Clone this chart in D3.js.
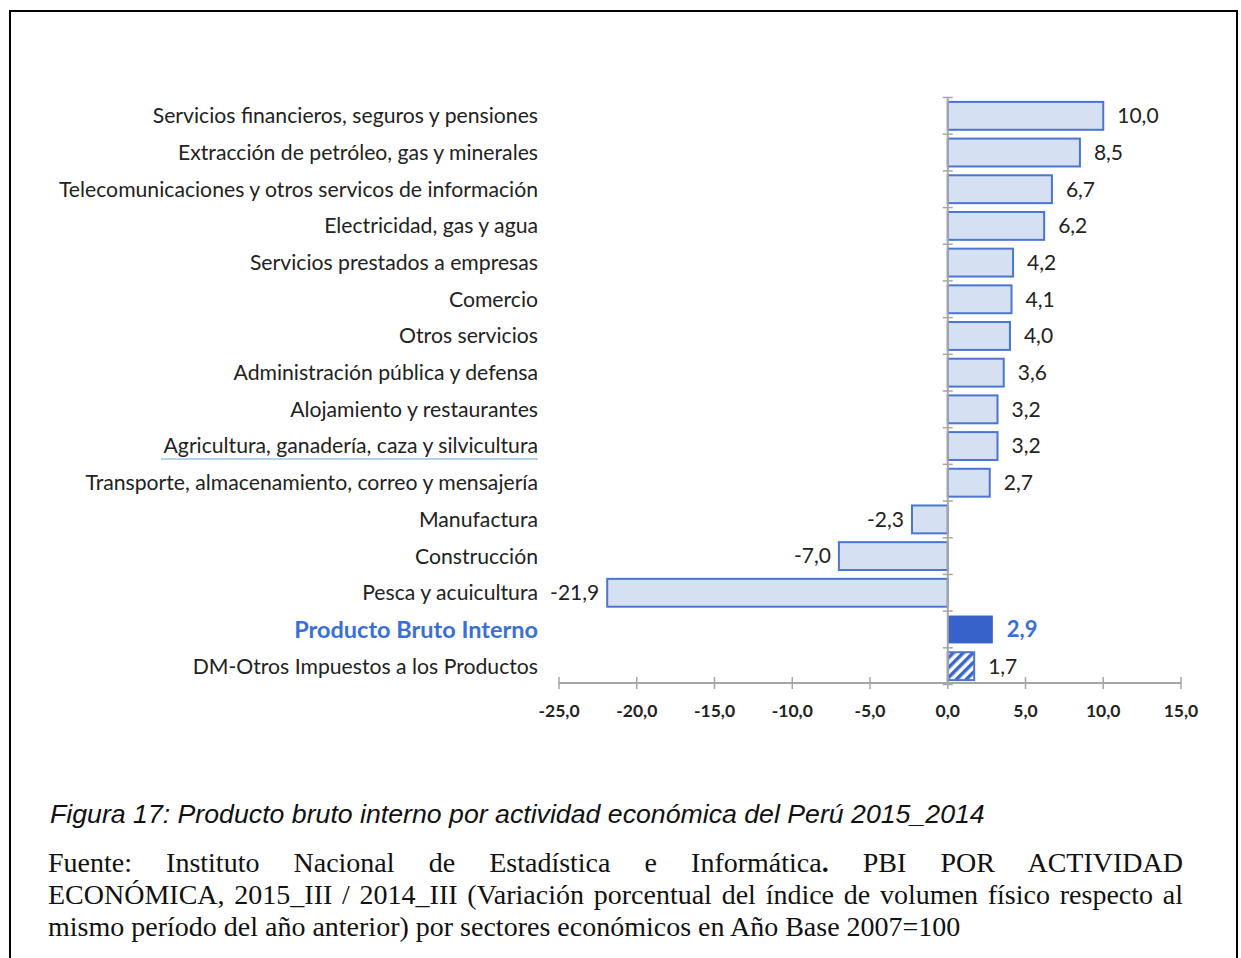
<!DOCTYPE html>
<html>
<head>
<meta charset="utf-8">
<script src="https://cdn.jsdelivr.net/npm/d3@7"></script>
<style>
  body { margin: 0; background: #fff; }
  #frame { position: absolute; left: 9px; top: 10px; width: 1229px; height: 960px;
           border: 2px solid #000; border-bottom: none; box-sizing: border-box; }
  #chart { position: absolute; left: 0; top: 0; }
  .fig { position: absolute; left: 50px; top: 798px; font-family: "Liberation Sans", Arial, sans-serif;
         font-style: italic; font-size: 26.7px; line-height: 32px; color: #111; white-space: nowrap; }
  .src { position: absolute; left: 48px; width: 1135px; font-family: "Liberation Serif", "Times New Roman", serif;
         font-size: 28px; line-height: 32px; color: #111; white-space: nowrap; }
  .just { text-align: justify; text-align-last: justify; white-space: normal; }
</style>
</head>
<body>
<div id="frame"></div>
<svg id="chart" width="1241" height="958"></svg>
<div class="fig">Figura 17: Producto bruto interno por actividad económica del Perú 2015_2014</div>
<div class="src just" style="top:847px">Fuente: Instituto Nacional de Estadística e Informática<b>.</b> PBI POR ACTIVIDAD</div>
<div class="src just" style="top:879px">ECONÓMICA, 2015_III / 2014_III (Variación porcentual del índice de volumen físico respecto al</div>
<div class="src" style="top:911px">mismo período del año anterior) por sectores económicos en Año Base 2007=100</div>
<script>
// sectors, top to bottom
var sectores = [
  "Servicios financieros, seguros y pensiones",
  "Extracción de petróleo, gas y minerales",
  "Telecomunicaciones y otros servicos de información",
  "Electricidad, gas y agua",
  "Servicios prestados a empresas",
  "Comercio",
  "Otros servicios",
  "Administración pública y defensa",
  "Alojamiento y restaurantes",
  "Agricultura, ganadería, caza y silvicultura",
  "Transporte, almacenamiento, correo y mensajería",
  "Manufactura",
  "Construcción",
  "Pesca y acuicultura",
  "Producto Bruto Interno",
  "DM-Otros Impuestos a los Productos"
];
var variacion = [10.0, 8.5, 6.7, 6.2, 4.2, 4.1, 4.0, 3.6, 3.2, 3.2, 2.7, -2.3, -7.0, -21.9, 2.9, 1.7];
var xTicks = [-25, -20, -15, -10, -5, 0, 5, 10, 15];

var svg = d3.select("#chart");

// hatch pattern for the taxes bar
var pat = svg.append("defs").append("pattern")
  .attr("id", "hatch")
  .attr("patternUnits", "userSpaceOnUse")
  .attr("width", 7).attr("height", 7)
  .attr("patternTransform", "rotate(45)");
pat.append("rect").attr("width", 7).attr("height", 7).attr("fill", "#fff");
pat.append("rect").attr("width", 3.5).attr("height", 7).attr("fill", "#3a66cc");

var x = d3.scaleLinear().domain([-25, 15]).range([559, 1181]);
var y = d3.scaleBand().domain(sectores).range([97.5, 684.5])
  .paddingInner(0.24).paddingOuter(0.12);

var fmt = function(v) { return d3.format(".1f")(v).replace(".", ",").replace("−", "-"); };

// x axis
var xAxis = svg.append("g").attr("transform", "translate(0,683)");
xAxis.append("line").attr("x1", x(-25)).attr("x2", x(15))
  .attr("stroke", "#a6a6a6").attr("stroke-width", 2);
xAxis.selectAll(".xt").data(xTicks).enter().append("line")
  .attr("x1", function(d) { return x(d); }).attr("x2", function(d) { return x(d); })
  .attr("y1", -6).attr("y2", 6)
  .attr("stroke", "#a6a6a6").attr("stroke-width", 1.5);
xAxis.selectAll(".xl").data(xTicks).enter().append("text")
  .attr("x", function(d) { return x(d); }).attr("y", 34)
  .attr("text-anchor", "middle")
  .attr("font-family", "Lato, sans-serif").attr("font-size", 17.5).attr("font-weight", "bold")
  .attr("fill", "#222")
  .text(fmt);

// bars
svg.selectAll(".bar").data(variacion).enter().append("rect")
  .attr("x", function(d) { return x(Math.min(0, d)); })
  .attr("y", function(d, i) { return y(sectores[i]); })
  .attr("width", function(d) { return Math.abs(x(d) - x(0)); })
  .attr("height", y.bandwidth())
  .attr("fill", function(d, i) { return i === 14 ? "#3762c9" : (i === 15 ? "url(#hatch)" : "#d6e0f3"); })
  .attr("stroke", function(d, i) { return i === 14 ? "none" : "#4a76d2"; })
  .attr("stroke-width", 2);

// y axis at zero with band ticks
var yAx = svg.append("g");
yAx.append("line").attr("x1", x(0)).attr("x2", x(0))
  .attr("y1", y.range()[0]).attr("y2", y.range()[1])
  .attr("stroke", "#a6a6a6").attr("stroke-width", 2);
yAx.selectAll(".yt").data(d3.range(sectores.length + 1)).enter().append("line")
  .attr("x1", x(0) - 5).attr("x2", x(0) + 5)
  .attr("y1", function(k) { return y.range()[0] + k * y.step(); })
  .attr("y2", function(k) { return y.range()[0] + k * y.step(); })
  .attr("stroke", "#a6a6a6").attr("stroke-width", 1.5);

// category labels
svg.selectAll(".cat").data(sectores).enter().append("text")
  .attr("x", 538)
  .attr("y", function(d) { return y(d) + y.bandwidth() / 2; })
  .attr("dy", "0.35em")
  .attr("text-anchor", "end")
  .attr("font-family", "Lato, sans-serif")
  .attr("font-size", function(d, i) { return i === 14 ? 23.5 : 21.2; })
  .attr("font-weight", function(d, i) { return i === 14 ? "bold" : "normal"; })
  .attr("fill", function(d, i) { return i === 14 ? "#3a6fd8" : "#222"; })
  .text(function(d) { return d; });

// underline under Agricultura label
var agr = sectores[9];
svg.append("line")
  .attr("x1", 161).attr("x2", 538)
  .attr("y1", y(agr) + y.bandwidth() / 2 + 13).attr("y2", y(agr) + y.bandwidth() / 2 + 13)
  .attr("stroke", "#9dc3e6").attr("stroke-width", 1.5);

// value labels
svg.selectAll(".val").data(variacion).enter().append("text")
  .attr("x", function(d) { return d >= 0 ? x(d) + 14 : x(d) - 8; })
  .attr("y", function(d, i) { return y(sectores[i]) + y.bandwidth() / 2; })
  .attr("dy", "0.35em")
  .attr("text-anchor", function(d) { return d >= 0 ? "start" : "end"; })
  .attr("font-family", "Lato, sans-serif")
  .attr("font-size", function(d, i) { return i === 14 ? 22 : 21; })
  .attr("font-weight", function(d, i) { return i === 14 ? "bold" : "normal"; })
  .attr("fill", function(d, i) { return i === 14 ? "#3a6fd8" : "#222"; })
  .text(fmt);
</script>
</body>
</html>
